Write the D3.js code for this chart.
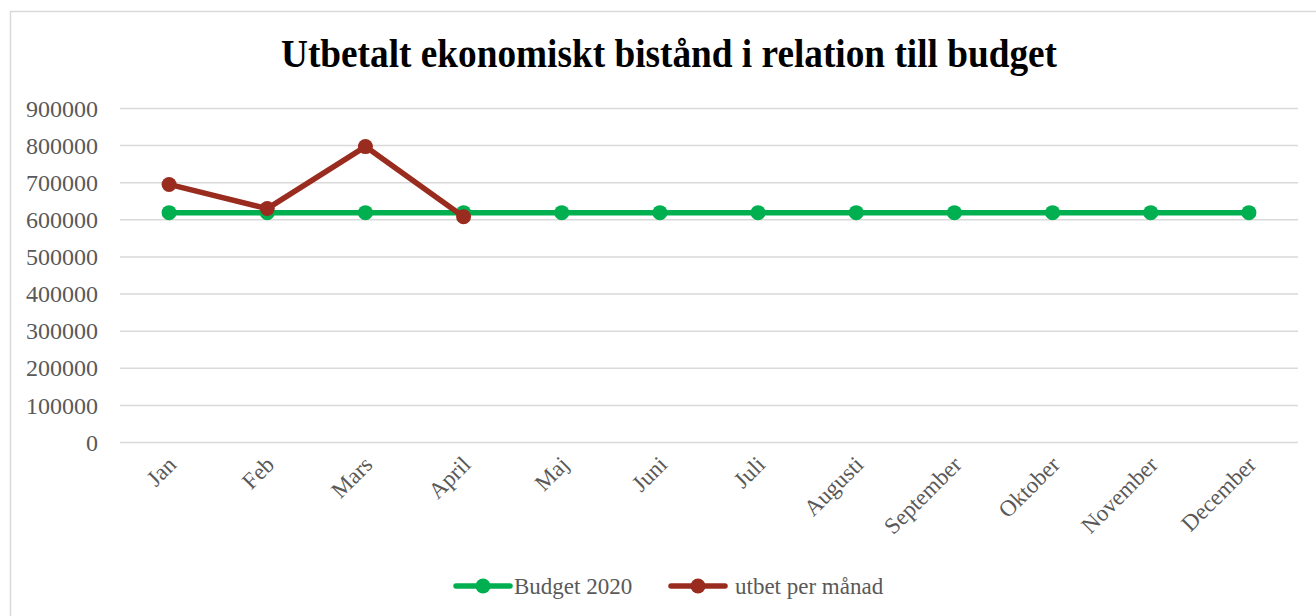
<!DOCTYPE html>
<html>
<head>
<meta charset="utf-8">
<script src="https://cdn.jsdelivr.net/npm/d3@7"></script>
<style>
  html, body { margin: 0; padding: 0; background: #fff; }
  svg { display: block; }
  text { font-family: "Liberation Serif", "Times New Roman", serif; }
</style>
</head>
<body>
<svg id="chart" width="1316" height="616"></svg>
<script>
// Months and monthly figures
const months = ["Jan", "Feb", "Mars", "April", "Maj", "Juni", "Juli", "Augusti",
                "September", "Oktober", "November", "December"];
const budget2020 = [618000, 618000, 618000, 618000, 618000, 618000,
                    618000, 618000, 618000, 618000, 618000, 618000];
const utbetPerManad = [694000, 629000, 796000, 607000];
const yTicks = [0, 100000, 200000, 300000, 400000, 500000, 600000, 700000, 800000, 900000];
const seriesNames = ["Budget 2020", "utbet per månad"];
const seriesColors = ["#00B050", "#9A2C1F"];

const svg = d3.select("#chart");
const W = 1316, H = 616;
const margin = { left: 120, right: 18, top: 108, bottom: 174 };

// outer chart frame
svg.append("rect")
  .attr("x", 10.5).attr("y", 11.5)
  .attr("width", W + 20).attr("height", H + 20)
  .attr("fill", "#fff").attr("stroke", "#D9D9D9").attr("stroke-width", 1.5);

// title
svg.append("text")
  .attr("x", 669).attr("y", 67)
  .attr("text-anchor", "middle")
  .attr("font-size", 39).attr("font-weight", "bold").attr("fill", "#000")
  .attr("textLength", 776).attr("lengthAdjust", "spacingAndGlyphs")
  .text("Utbetalt ekonomiskt bistånd i relation till budget");

const x = d3.scalePoint()
  .domain(months)
  .range([margin.left, W - margin.right])
  .padding(0.5);

const y = d3.scaleLinear()
  .domain([0, 900000])
  .range([H - margin.bottom, margin.top]);

// horizontal gridlines + y labels
const yAxis = d3.axisLeft(y)
  .tickValues(yTicks)
  .tickSize(-(W - margin.right - margin.left))
  .tickPadding(22)
  .tickFormat(d3.format("d"));

const gy = svg.append("g")
  .attr("transform", `translate(${margin.left},0)`)
  .call(yAxis);
gy.select(".domain").remove();
gy.selectAll(".tick line").attr("stroke", "#D9D9D9").attr("stroke-width", 1.5);
gy.selectAll(".tick text")
  .attr("fill", "#595959").attr("font-size", 24)
  .attr("font-family", "Liberation Serif, Times New Roman, serif")
  .attr("dy", "0.34em");

// x labels, rotated
const xAxis = d3.axisBottom(x).tickSize(0).tickPadding(0);
const gx = svg.append("g")
  .attr("transform", `translate(0,${H - margin.bottom})`)
  .call(xAxis);
gx.select(".domain").remove();
gx.selectAll(".tick text")
  .attr("fill", "#595959").attr("font-size", 23)
  .attr("font-family", "Liberation Serif, Times New Roman, serif")
  .attr("text-anchor", "end")
  .attr("dy", null)
  .attr("y", 0)
  .attr("transform", "translate(8,24) rotate(-45)");

const line = d3.line()
  .x((d, i) => x(months[i]))
  .y(d => y(d));

function drawSeries(values, color) {
  const g = svg.append("g");
  g.append("path")
    .datum(values)
    .attr("d", line)
    .attr("fill", "none")
    .attr("stroke", color)
    .attr("stroke-width", 5.5)
    .attr("stroke-linejoin", "round")
    .attr("stroke-linecap", "round");
  g.selectAll("circle")
    .data(values)
    .join("circle")
    .attr("cx", (d, i) => x(months[i]))
    .attr("cy", d => y(d))
    .attr("r", 7.5)
    .attr("fill", color);
}
drawSeries(budget2020, seriesColors[0]);
drawSeries(utbetPerManad, seriesColors[1]);

// legend
const legendItems = [
  { name: seriesNames[0], color: seriesColors[0], x: 456 },
  { name: seriesNames[1], color: seriesColors[1], x: 671 }
];
const ly = 586;
legendItems.forEach(it => {
  const g = svg.append("g");
  g.append("line")
    .attr("x1", it.x).attr("x2", it.x + 54)
    .attr("y1", ly).attr("y2", ly)
    .attr("stroke", it.color).attr("stroke-width", 5.5)
    .attr("stroke-linecap", "round");
  g.append("circle")
    .attr("cx", it.x + 27).attr("cy", ly).attr("r", 7.5)
    .attr("fill", it.color);
  g.append("text")
    .attr("x", it.x + (it === legendItems[0] ? 58 : 64)).attr("y", ly + 8)
    .attr("font-size", 23).attr("fill", "#595959")
    .text(it.name);
});
</script>
</body>
</html>
